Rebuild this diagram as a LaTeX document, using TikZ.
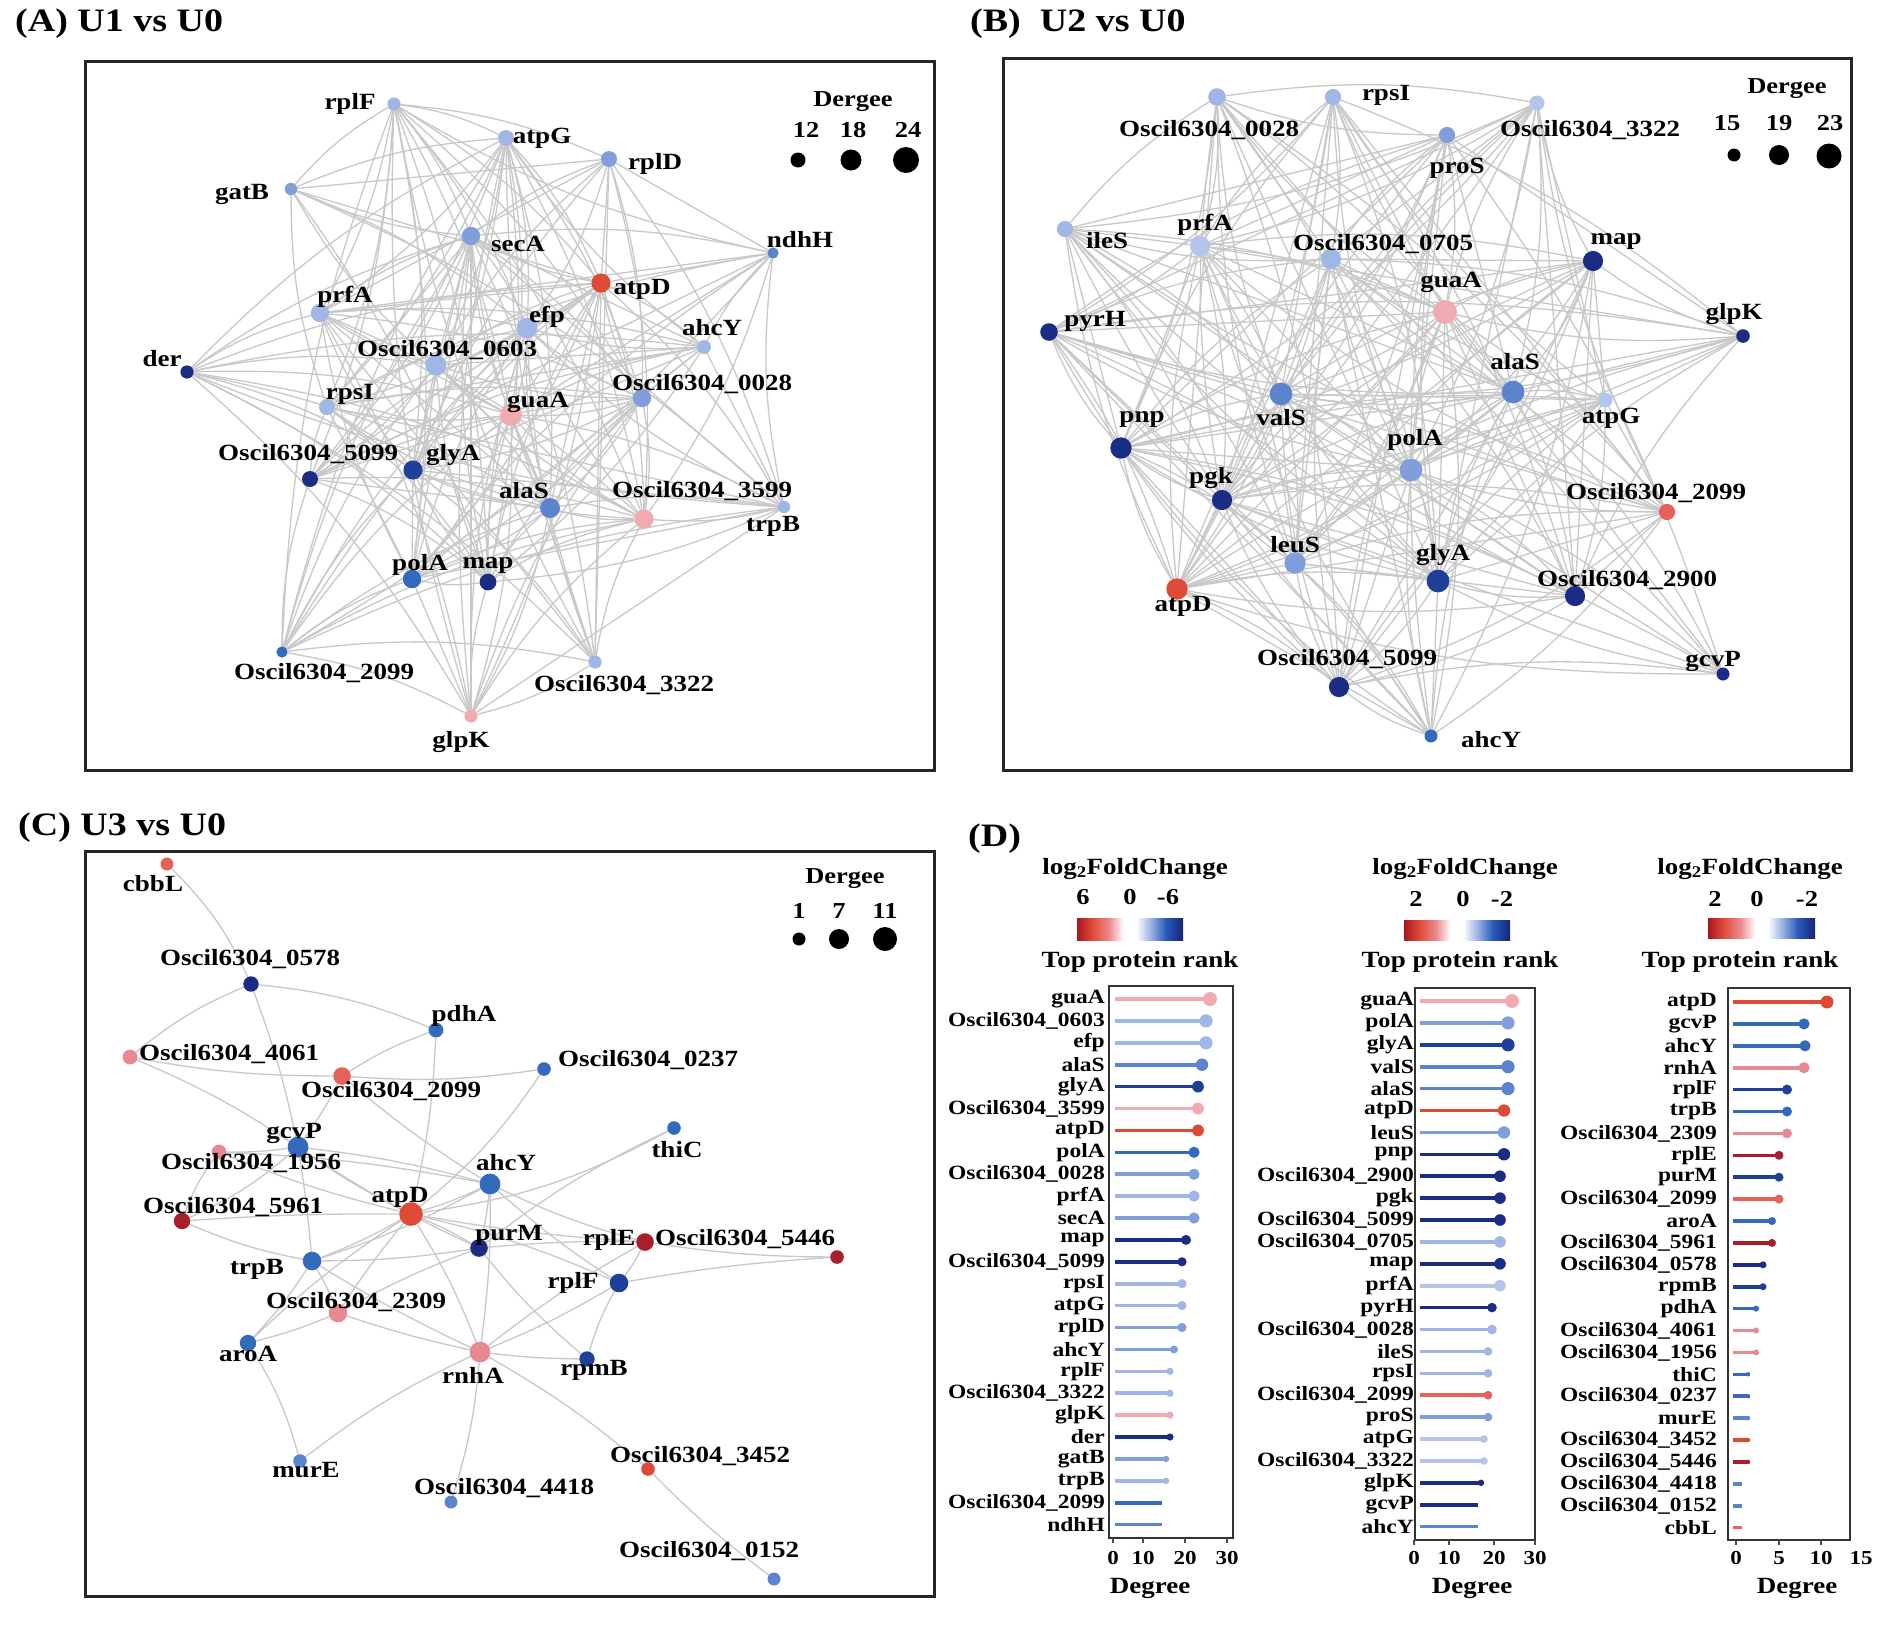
\documentclass[tikz,border=0pt]{standalone}
\usepackage{fontspec}
\setmainfont{Liberation Serif}
\usepackage{graphicx}
\pgfdeclarelayer{bg}
\pgfsetlayers{bg,main}
\definecolor{pk}{RGB}{241,170,178}
\definecolor{pkm}{RGB}{232,136,146}
\definecolor{sal}{RGB}{228,98,88}
\definecolor{rd}{RGB}{221,74,54}
\definecolor{drd}{RGB}{168,30,42}
\definecolor{nv}{RGB}{26,44,132}
\definecolor{nvb}{RGB}{30,64,152}
\definecolor{bl}{RGB}{52,106,188}
\definecolor{md}{RGB}{92,132,206}
\definecolor{ml}{RGB}{128,158,218}
\definecolor{lt}{RGB}{160,182,228}
\definecolor{vl}{RGB}{180,197,234}
\definecolor{eg}{RGB}{200,200,200}
\definecolor{cbr}{RGB}{170,20,35}
\definecolor{cbp}{RGB}{236,135,140}
\definecolor{cbl}{RGB}{150,175,225}
\definecolor{cbb}{RGB}{40,90,185}
\definecolor{cbn}{RGB}{20,35,120}
\pgfdeclarehorizontalshading{fcbar}{100bp}{color(0bp)=(cbr); color(25bp)=(cbr); color(32bp)=(rd); color(40bp)=(cbp); color(47bp)=(white); color(53bp)=(white); color(60bp)=(cbl); color(67bp)=(cbb); color(75bp)=(cbn); color(100bp)=(cbn)}
\newcommand\fsz[1]{\fontsize{#1}{#1}\selectfont\bfseries}
\newcommand\sqz[1]{\scalebox{1}[0.86]{#1}}
\tikzset{
  lnk/.style={draw=eg, line width=1.3pt},
  nd/.style={circle, inner sep=0pt, outer sep=0pt},
  lab/.style={inner sep=0pt, font=\fsz{27}},
  ttl/.style={inner sep=0pt, font=\fsz{38}, anchor=west},
  leg/.style={inner sep=0pt, font=\fsz{26.5}},
  clab/.style={inner sep=0pt, font=\fsz{23.5}, anchor=east},
  hdr/.style={inner sep=0pt, font=\fsz{27}},
  tk/.style={inner sep=0pt, font=\fsz{23}},
  lolli/.style={line width=3.6pt},
  pframe/.style={draw=black!85, line width=3pt},
  cframe/.style={draw=black!80, line width=2pt},
  tmark/.style={draw=black!70, line width=1.2pt},
}
\def\Adata{1/511/415/pk/10.9/538/402/guaA, 2/436/365/lt/10.5/447/350/Oscil6304\_0603, 3/527/328/lt/10.5/547/317/efp, 4/550/508/md/10/524/491/alaS, 5/413/470/nvb/9.6/453/455/glyA, 6/644/519/pk/9.6/702/491/Oscil6304\_3599, 7/601/283/rd/9.6/642/289/atpD, 8/412/579/bl/9.2/420/565/polA, 9/642/398/ml/9.2/702/384/Oscil6304\_0028, 10/320/313/lt/9.2/345/297/prfA, 11/471/236/ml/9.2/518/244/secA, 12/488/582/nv/8.4/488/565/map, 13/310/479/nv/8/308/454/Oscil6304\_5099, 14/327/407/lt/8/350/394/rpsI, 15/506/138/lt/8/542/138/atpG, 16/609/159/ml/8/655/164/rplD, 17/704/347/lt/7/712/328/ahcY, 18/394/104/lt/6.6/350/104/rplF, 19/595/662/lt/6.6/624/685/Oscil6304\_3322, 20/471/716/pk/6.6/461/742/glpK, 21/187/372/nv/6.6/162/359/der, 22/291/189/ml/6.2/242/194/gatB, 23/784/507/lt/6.2/773/526/trpB, 24/282/652/bl/5.6/324/673/Oscil6304\_2099, 25/773/253/md/5.6/800/240/ndhH}
\def\Bdata{1/1445/312/pk/12/1451/282/guaA, 2/1411/470/ml/11.4/1415/440/polA, 3/1438/581/nvb/11.4/1443/555/glyA, 4/1281/394/md/11.4/1281/418/valS, 5/1513/392/md/11.4/1515/362/alaS, 6/1177/589/rd/10.7/1183/606/atpD, 7/1295/563/ml/10.7/1295/545/leuS, 8/1121/448/nv/10.7/1142/419/pnp, 9/1575/596/nv/10.1/1627/580/Oscil6304\_2900, 10/1222/500/nv/10.1/1211/478/pgk, 11/1339/687/nv/10.1/1347/659/Oscil6304\_5099, 12/1331/259/lt/10.1/1383/244/Oscil6304\_0705, 13/1593/261/nv/10.1/1616/241/map, 14/1200/246/vl/10.1/1205/225/prfA, 15/1049/332/nv/8.8/1095/321/pyrH, 16/1217/97/lt/8.8/1209/130/Oscil6304\_0028, 17/1065/229/lt/8.1/1107/241/ileS, 18/1333/97/lt/8.1/1386/95/rpsI, 19/1667/512/sal/8.1/1656/493/Oscil6304\_2099, 20/1447/135/ml/8.1/1457/168/proS, 21/1605/400/vl/7.5/1611/418/atpG, 22/1537/103/vl/7.5/1590/130/Oscil6304\_3322, 23/1743/336/nv/6.8/1734/314/glpK, 24/1723/674/nv/6.5/1713/661/gcvP, 25/1431/736/bl/6.5/1491/740/ahcY}
\def\Cdata{1/411/1214/rd/11.8/400/1197/atpD, 2/298/1147/bl/10.4/294/1133/gcvP, 3/490/1184/bl/10.4/506/1163/ahcY, 4/480/1352/pkm/10.4/473/1375/rnhA, 5/619/1283/nvb/9.3/573/1283/rplF, 6/312/1261/bl/9.3/257/1269/trpB, 7/338/1313/pkm/9.3/356/1302/Oscil6304\_2309, 8/645/1242/drd/8.8/609/1240/rplE, 9/479/1248/nv/8.8/509/1235/purM, 10/342/1076/sal/8.8/391/1091/Oscil6304\_2099, 11/248/1343/bl/8.2/248/1354/aroA, 12/182/1221/drd/8.2/233/1207/Oscil6304\_5961, 13/251/984/nv/7.7/250/959/Oscil6304\_0578, 14/587/1359/nvb/7.7/594/1370/rpmB, 15/436/1030/bl/7.4/464/1016/pdhA, 16/130/1057/pkm/7.4/229/1054/Oscil6304\_4061, 17/219/1152/pkm/7.4/251/1163/Oscil6304\_1956, 18/674/1128/bl/6.8/677/1150/thiC, 19/544/1069/bl/6.8/648/1060/Oscil6304\_0237, 20/300/1461/md/6.8/306/1470/murE, 21/648/1469/rd/6.8/700/1456/Oscil6304\_3452, 22/837/1257/drd/6.8/745/1239/Oscil6304\_5446, 23/451/1502/md/6.5/504/1488/Oscil6304\_4418, 24/774/1579/md/6.5/709/1551/Oscil6304\_0152, 25/167/864/sal/6.5/153/884/cbbL}
\begin{document}
\begin{tikzpicture}[x=1pt,y=-1pt]
\useasboundingbox (0,0) rectangle (1901,1631);
\begin{pgfonlayer}{bg}
\fill[white] (0,0) rectangle (1901,1631);
\end{pgfonlayer}
% titles
\node[ttl] (tA) at (15,24) {\sqz{(A) U1 vs U0}};
\node[ttl] (tB) at (970,24) {\sqz{(B)~ U2 vs U0}};
\node[ttl] (tC) at (18,828) {\sqz{(C) U3 vs U0}};
\node[ttl] (tD) at (968,839) {\sqz{(D)}};
% frames
\draw[pframe] (85,61) rectangle (934,770);
\draw[pframe] (1003,58) rectangle (1851,770);
\draw[pframe] (85,851) rectangle (934,1596);
% ---------- panel A ----------
\foreach \k/\x/\y/\c/\r/\lx/\ly/\t in \Adata {\node[nd,fill=\c,minimum size=2*\r] (a\k) at (\x,\y) {};}
\begin{pgfonlayer}{bg}
\foreach \i in {1,...,24}{
  \pgfmathtruncatemacro\js{\i+1}
  \foreach \j in {\js,...,25}{
    \pgfmathtruncatemacro\h{mod(3*\i*\i+5*\j*\j+7*\i*\j+3*\i,100)}
    \pgfmathtruncatemacro\ok{\h<125-2*(\i+\j)}
    \ifnum\ok=1
      \pgfmathtruncatemacro\bb{mod(\i*\j,3)*9-9}
      \draw[lnk] (a\i) to[bend left=\bb] (a\j);
    \fi
  }
}
\end{pgfonlayer}
\foreach \k/\x/\y/\c/\r/\lx/\ly/\t in \Adata {\node[lab] (aL\k) at (\lx,\ly) {\sqz{\t}};}
\node[leg] (lgA) at (853,102) {\sqz{Dergee}};
\node[leg] (lgA1) at (806,130) {\sqz{12}};
\node[leg] (lgA2) at (853,130) {\sqz{18}};
\node[leg] (lgA3) at (908,130) {\sqz{24}};
\node[nd,fill=black,minimum size=15] (lgAd1) at (798,160) {};
\node[nd,fill=black,minimum size=21] (lgAd2) at (851,160) {};
\node[nd,fill=black,minimum size=26] (lgAd3) at (906,160) {};
% ---------- panel B ----------
\foreach \k/\x/\y/\c/\r/\lx/\ly/\t in \Bdata {\node[nd,fill=\c,minimum size=2*\r] (b\k) at (\x,\y) {};}
\begin{pgfonlayer}{bg}
\foreach \i in {1,...,24}{
  \pgfmathtruncatemacro\js{\i+1}
  \foreach \j in {\js,...,25}{
    \pgfmathtruncatemacro\h{mod(5*\i*\i+3*\j*\j+7*\i*\j+\j,100)}
    \pgfmathtruncatemacro\ok{\h<135-2*(\i+\j)}
    \ifnum\ok=1
      \pgfmathtruncatemacro\bb{mod(\i+\j,3)*9-9}
      \draw[lnk] (b\i) to[bend left=\bb] (b\j);
    \fi
  }
}
\end{pgfonlayer}
\foreach \k/\x/\y/\c/\r/\lx/\ly/\t in \Bdata {\node[lab] (bL\k) at (\lx,\ly) {\sqz{\t}};}
\node[leg] (lgB) at (1787,89) {\sqz{Dergee}};
\node[leg] (lgB1) at (1727,123) {\sqz{15}};
\node[leg] (lgB2) at (1779,123) {\sqz{19}};
\node[leg] (lgB3) at (1830,123) {\sqz{23}};
\node[nd,fill=black,minimum size=13] (lgBd1) at (1734,155) {};
\node[nd,fill=black,minimum size=20] (lgBd2) at (1779,155) {};
\node[nd,fill=black,minimum size=25] (lgBd3) at (1829,156) {};
% ---------- panel C ----------
\foreach \k/\x/\y/\c/\r/\lx/\ly/\t in \Cdata {\node[nd,fill=\c,minimum size=2*\r] (c\k) at (\x,\y) {};}
\begin{pgfonlayer}{bg}
\foreach \u/\v/\bb in {25/13/10, 13/16/-8, 13/15/8, 13/2/4, 16/10/-5, 16/2/5, 10/19/-6, 10/15/6, 10/2/4, 10/3/-4,
  15/1/5, 19/1/8, 18/1/10, 18/9/-6, 2/17/4, 2/12/8, 2/6/2, 2/1/-4, 2/3/4, 2/9/-4, 17/12/-8, 17/3/4, 17/1/-4,
  12/1/2, 12/6/-6, 1/3/-4, 1/9/4, 1/8/-3, 1/5/5, 1/6/4, 1/7/-3, 1/11/-5, 1/4/5, 3/9/4, 3/8/-5, 3/5/-4, 3/4/4,
  3/6/5, 9/6/4, 9/8/3, 9/14/-5, 9/7/-4, 8/22/-4, 8/5/5, 8/4/-4, 5/22/3, 5/4/4, 5/14/-6, 6/7/4, 6/11/5, 6/4/-3,
  7/11/4, 7/4/-3, 11/20/8, 4/14/-3, 4/20/-6, 4/23/6, 4/21/5, 21/24/-4}
  {\draw[lnk] (c\u) to[bend left=\bb] (c\v);}
\end{pgfonlayer}
\foreach \k/\x/\y/\c/\r/\lx/\ly/\t in \Cdata {\node[lab] (cL\k) at (\lx,\ly) {\sqz{\t}};}
\node[leg] (lgC) at (845,879) {\sqz{Dergee}};
\node[leg] (lgC1) at (799,911) {\sqz{1}};
\node[leg] (lgC2) at (839,911) {\sqz{7}};
\node[leg] (lgC3) at (885,911) {\sqz{11}};
\node[nd,fill=black,minimum size=13] (lgCd1) at (799,939) {};
\node[nd,fill=black,minimum size=20] (lgCd2) at (839,939) {};
\node[nd,fill=black,minimum size=24] (lgCd3) at (885,939) {};
% ---------- panel D : chart 1 ----------
\node[hdr] (h1) at (1135,869) {\sqz{log\textsubscript{2}FoldChange}};
\node[leg] (h1a) at (1083,897) {\sqz{6}};
\node[leg] (h1b) at (1130,897) {\sqz{0}};
\node[leg] (h1c) at (1168,897) {\sqz{-6}};
\shade[shading=fcbar] (1077,918) rectangle (1183,940);
\node[hdr] (h1t) at (1140,962) {\sqz{Top protein rank}};
\draw[cframe] (1109,986) rectangle (1233,1538);
\foreach \t/\xe/\c/\r [count=\k] in {guaA/1210/pk/7, Oscil6304\_0603/1206/lt/6.6, efp/1206/lt/6.6, alaS/1202/md/6.2, glyA/1198/nvb/5.9, Oscil6304\_3599/1198/pk/5.9, atpD/1198/rd/5.9, polA/1194/bl/5.6, Oscil6304\_0028/1194/ml/5.6, prfA/1194/lt/5.6, secA/1194/ml/5.6, map/1186/nv/5, Oscil6304\_5099/1182/nv/4.6, rpsI/1182/lt/4.6, atpG/1182/lt/4.6, rplD/1182/ml/4.6, ahcY/1174/ml/4, rplF/1170/lt/3.6, Oscil6304\_3322/1170/lt/3.6, glpK/1170/pk/3.6, der/1170/nv/3.6, gatB/1166/ml/3.2, trpB/1166/lt/3.2, Oscil6304\_2099/1162/bl/0, ndhH/1162/md/0}{
  \pgfmathsetmacro\yy{999+21.9*(\k-1)}
  \draw[lolli,draw=\c] (1115,\yy) -- (\xe,\yy);
  \ifdim\r pt>0pt \fill[\c] (\xe,\yy) circle[radius=\r pt]; \fi
  \node[clab] (dA\k) at (1105,\yy) {\sqz{\t}};
}
\foreach \xt/\lt [count=\m] in {1113/0,1143/10,1185/20,1227/30}{
  \draw[tmark] (\xt,1538) -- (\xt,1543);
  \node[tk] (x1\m) at (\xt,1558) {\sqz{\lt}};
}
\node[hdr] (x1t) at (1150,1588) {\sqz{Degree}};
% ---------- chart 2 ----------
\node[hdr] (h2) at (1465,869) {\sqz{log\textsubscript{2}FoldChange}};
\node[leg] (h2a) at (1416,899) {\sqz{2}};
\node[leg] (h2b) at (1463,899) {\sqz{0}};
\node[leg] (h2c) at (1502,899) {\sqz{-2}};
\shade[shading=fcbar] (1404,920) rectangle (1510,940);
\node[hdr] (h2t) at (1460,962) {\sqz{Top protein rank}};
\draw[cframe] (1415,988) rectangle (1535,1540);
\foreach \t/\xe/\c/\r [count=\k] in {guaA/1512/pk/7, polA/1508/ml/6.6, glyA/1508/nvb/6.6, valS/1508/md/6.6, alaS/1508/md/6.6, atpD/1504/rd/6.2, leuS/1504/ml/6.2, pnp/1504/nv/6.2, Oscil6304\_2900/1500/nv/5.8, pgk/1500/nv/5.8, Oscil6304\_5099/1500/nv/5.8, Oscil6304\_0705/1500/lt/5.8, map/1500/nv/5.8, prfA/1500/vl/5.8, pyrH/1492/nv/4.8, Oscil6304\_0028/1492/lt/4.8, ileS/1488/lt/4.3, rpsI/1488/lt/4.3, Oscil6304\_2099/1488/sal/4.3, proS/1488/ml/4.3, atpG/1484/vl/3.8, Oscil6304\_3322/1484/vl/3.8, glpK/1481/nv/3.2, gcvP/1478/nv/0, ahcY/1478/md/0}{
  \pgfmathsetmacro\yy{1001+21.9*(\k-1)}
  \draw[lolli,draw=\c] (1420,\yy) -- (\xe,\yy);
  \ifdim\r pt>0pt \fill[\c] (\xe,\yy) circle[radius=\r pt]; \fi
  \node[clab] (dB\k) at (1414,\yy) {\sqz{\t}};
}
\foreach \xt/\lt [count=\m] in {1414/0,1449/10,1494/20,1535/30}{
  \draw[tmark] (\xt,1540) -- (\xt,1545);
  \node[tk] (x2\m) at (\xt,1558) {\sqz{\lt}};
}
\node[hdr] (x2t) at (1472,1588) {\sqz{Degree}};
% ---------- chart 3 ----------
\node[hdr] (h3) at (1750,869) {\sqz{log\textsubscript{2}FoldChange}};
\node[leg] (h3a) at (1715,899) {\sqz{2}};
\node[leg] (h3b) at (1757,899) {\sqz{0}};
\node[leg] (h3c) at (1807,899) {\sqz{-2}};
\shade[shading=fcbar] (1708,918) rectangle (1815,938);
\node[hdr] (h3t) at (1740,962) {\sqz{Top protein rank}};
\draw[cframe] (1728,988) rectangle (1850,1540);
\foreach \t/\xe/\c/\r [count=\k] in {atpD/1827/rd/6.5, gcvP/1804/bl/5.6, ahcY/1805/bl/5.6, rnhA/1804/pkm/5.6, rplF/1787/nvb/5, trpB/1787/bl/5, Oscil6304\_2309/1787/pkm/5, rplE/1779/drd/4.5, purM/1779/nvb/4.5, Oscil6304\_2099/1779/sal/4.5, aroA/1772/bl/4, Oscil6304\_5961/1772/drd/4, Oscil6304\_0578/1763/nv/3.5, rpmB/1763/nvb/3.5, pdhA/1756/bl/3, Oscil6304\_4061/1756/pkm/3, Oscil6304\_1956/1756/pkm/3, thiC/1748/bl/2.2, Oscil6304\_0237/1748/bl/2.2, murE/1748/md/2.2, Oscil6304\_3452/1748/rd/2.2, Oscil6304\_5446/1748/drd/2.2, Oscil6304\_4418/1742/md/0, Oscil6304\_0152/1742/md/0, cbbL/1742/sal/0}{
  \pgfmathsetmacro\yy{1002+21.9*(\k-1)}
  \draw[lolli,draw=\c] (1733,\yy) -- (\xe,\yy);
  \ifdim\r pt>0pt \fill[\c] (\xe,\yy) circle[radius=\r pt]; \fi
  \node[clab] (dC\k) at (1717,\yy) {\sqz{\t}};
}
\foreach \xt/\lt [count=\m] in {1736/0,1779/5,1821/10,1861/15}{
  \ifnum\m<4 \draw[tmark] (\xt,1540) -- (\xt,1545); \fi
  \node[tk] (x3\m) at (\xt,1558) {\sqz{\lt}};
}
\node[hdr] (x3t) at (1797,1588) {\sqz{Degree}};
\end{tikzpicture}
\end{document}
